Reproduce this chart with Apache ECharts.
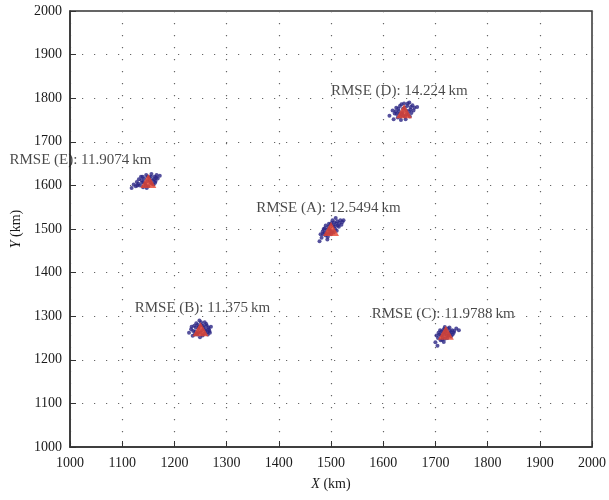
<!DOCTYPE html>
<html><head><meta charset="utf-8">
<script src="https://cdn.jsdelivr.net/npm/echarts@6/dist/echarts.min.js"></script>
<style>html,body{margin:0;padding:0;background:#fff}#c{width:609px;height:500px}</style>
</head><body><div id="c"></div>
<script>
var xTicks = [1000,1100,1200,1300,1400,1500,1600,1700,1800,1900,2000];
var yTicks = [1000,1100,1200,1300,1400,1500,1600,1700,1800,1900,2000];

var estA = [[1478,1472],[1482,1480],[1485,1488],[1488,1492],[1490,1485],[1492,1498],[1495,1505],[1497,1490],[1499,1510],[1502,1495],[1504,1508],[1506,1515],[1508,1500],[1510,1512],[1512,1518],[1515,1505],[1518,1520],[1520,1510],[1486,1500],[1490,1508],[1494,1482],[1500,1488],[1505,1492],[1511,1496],[1516,1514],[1522,1516],[1484,1494],[1488,1502],[1496,1512],[1503,1520],[1509,1525],[1493,1476],[1513,1508],[1497,1500],[1507,1506],[1492,1490],[1480,1488],[1524,1520],[1501,1514],[1498,1496]];
var estB = [[1228,1262],[1232,1270],[1235,1255],[1238,1278],[1240,1265],[1242,1284],[1244,1258],[1246,1272],[1248,1290],[1250,1262],[1252,1280],[1254,1256],[1256,1274],[1258,1286],[1260,1266],[1262,1278],[1264,1258],[1266,1270],[1268,1262],[1270,1276],[1236,1266],[1241,1274],[1245,1280],[1249,1252],[1253,1268],[1257,1260],[1261,1282],[1265,1274],[1246,1264],[1255,1278],[1233,1276],[1259,1270],[1251,1286],[1243,1260],[1267,1266],[1239,1258],[1263,1264],[1247,1276]];
var estC = [[1700,1240],[1704,1232],[1705,1250],[1708,1258],[1710,1245],[1712,1265],[1714,1252],[1716,1270],[1718,1248],[1720,1262],[1722,1255],[1724,1272],[1726,1260],[1728,1266],[1730,1254],[1732,1268],[1735,1262],[1740,1272],[1745,1268],[1711,1256],[1715,1262],[1719,1270],[1723,1250],[1727,1274],[1713,1246],[1717,1258],[1721,1266],[1725,1256],[1706,1262],[1709,1268],[1729,1262],[1733,1258],[1716,1241],[1702,1256],[1736,1266],[1718,1275]];
var estD = [[1612,1760],[1618,1772],[1620,1752],[1622,1765],[1625,1778],[1628,1756],[1630,1770],[1632,1782],[1634,1750],[1636,1764],[1638,1776],[1640,1788],[1642,1758],[1644,1772],[1646,1782],[1648,1762],[1650,1790],[1652,1774],[1654,1766],[1656,1784],[1660,1778],[1665,1780],[1626,1764],[1633,1758],[1637,1768],[1641,1778],[1645,1764],[1649,1770],[1653,1780],[1629,1776],[1635,1786],[1643,1752],[1647,1788],[1624,1770],[1658,1772],[1639,1760],[1631,1764],[1651,1758]];
var estE = [[1118,1594],[1122,1602],[1126,1598],[1128,1608],[1132,1614],[1134,1600],[1136,1620],[1138,1606],[1140,1596],[1142,1616],[1144,1604],[1146,1624],[1148,1610],[1150,1598],[1152,1618],[1154,1606],[1156,1626],[1158,1612],[1160,1602],[1162,1620],[1164,1610],[1166,1624],[1168,1616],[1172,1622],[1131,1604],[1137,1612],[1141,1608],[1145,1600],[1149,1620],[1153,1612],[1157,1604],[1161,1614],[1165,1618],[1139,1620],[1147,1594],[1155,1620],[1129,1600],[1163,1606]];

var trueSources = [[1500,1500],[1250,1270],[1720,1262],[1640,1770],[1150,1610]];

var rmseLabels = ["RMSE (A): 12.5494\u2009km","RMSE (B): 11.375\u2009km","RMSE (C): 11.9788\u2009km","RMSE (D): 14.224\u2009km","RMSE (E): 11.9074\u2009km"];
var rmseAnchors = [[1357,1547],[1124,1318],[1578,1304],[1500,1816],[884,1657]];

var FONT = '"Liberation Serif", "DejaVu Serif", serif';
var chart = echarts.init(document.getElementById('c'), null, {renderer:'canvas'});

var allEst = [].concat(estA, estB, estC, estD, estE);
var labelData = rmseAnchors.map(function(p,i){ return {value:p, name:rmseLabels[i]}; });

var axisCommon = {
  min:1000, max:2000, interval:100,
  axisLine:{show:true, onZero:false, lineStyle:{color:'#333', width:1.5}},
  axisTick:{show:true, inside:true, length:6, lineStyle:{color:'#333', width:1}},
  splitLine:{show:true, lineStyle:{color:'#666', width:1.2, type:[1.2,10.8]}},
  axisLabel:{color:'#1a1a1a', fontFamily:FONT, fontSize:14, formatter:function(v){return String(v);}}
};

chart.setOption({
  animation:false,
  backgroundColor:'#fff',
  grid:{left:70, right:16, top:11, bottom:53, show:true, borderColor:'#333', borderWidth:1.5, backgroundColor:'transparent'},
  xAxis:Object.assign({}, axisCommon, {
    type:'value', name:'{i|X} (km)', nameLocation:'middle', nameGap:30,
    nameTextStyle:{color:'#1a1a1a', fontFamily:FONT, fontSize:14, rich:{i:{fontStyle:'italic', fontFamily:FONT, fontSize:14, color:'#1a1a1a'}}},
    axisLabel:Object.assign({}, axisCommon.axisLabel, {margin:9})
  }),
  yAxis:Object.assign({}, axisCommon, {
    type:'value', name:'{i|Y} (km)', nameLocation:'middle', nameGap:47, nameRotate:90,
    nameTextStyle:{color:'#1a1a1a', fontFamily:FONT, fontSize:14, rich:{i:{fontStyle:'italic', fontFamily:FONT, fontSize:14, color:'#1a1a1a'}}},
    axisLabel:Object.assign({}, axisCommon.axisLabel, {margin:8})
  }),
  series:[
    {type:'scatter', data:allEst, symbol:'circle', symbolSize:4, itemStyle:{color:'#2a2585'}, z:3},
    {type:'scatter', data:trueSources, symbol:'triangle', symbolSize:[16,14], itemStyle:{color:'#e8452c'}, z:4},
    {type:'scatter', data:labelData, symbolSize:0, clip:false, silent:true, z:5,
      label:{show:true, position:'right', distance:0, formatter:function(p){return p.name;},
        color:'#1a1a1a', fontFamily:FONT, fontSize:15}}
  ]
});
</script>
</body></html>
